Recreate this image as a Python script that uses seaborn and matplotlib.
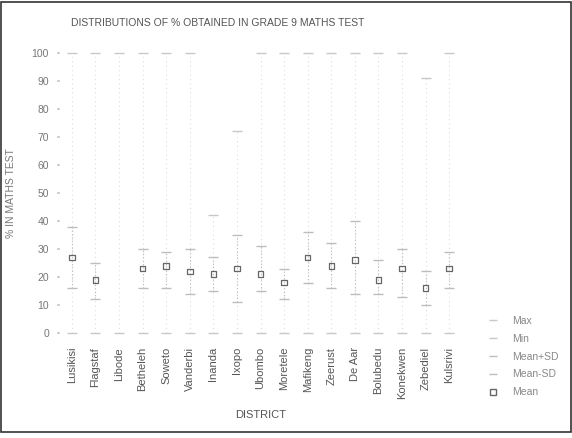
import numpy as np
import pandas as pd
import matplotlib
matplotlib.use("Agg")
import matplotlib.pyplot as plt
import seaborn as sns
from matplotlib.lines import Line2D
from matplotlib.patches import Rectangle

districts = ["Lusikisi", "Flagstaf", "Libode", "Betheleh", "Soweto", "Vanderbi",
             "Inanda", "Ixopo", "Ubombo", "Moretele", "Mafikeng", "Zeerust",
             "De Aar", "Bolubedu", "Konekwen", "Zebediel", "Kulsrivi"]
max_vals  = [100, 100, 100, 100, 100, 100, 42, 72, 100, 100, 100, 100, 100, 100, 100, 91, 100]
min_vals  = [0, 0, 0, 0, 0, 0, 0, 0, 0, 0, 0, 0, 0, 0, 0, 0, 0]
mean_plus = [38, 25, np.nan, 30, 29, 30, 27, 35, 31, 23, 36, 32, 40, 26, 30, 22, 29]
mean_minus = [16, 12, np.nan, 16, 16, 14, 15, 11, 15, 12, 18, 16, 14, 14, 13, 10, 16]
mean_vals = [27, 19, np.nan, 23, 24, 22, 21, 23, 21, 18, 27, 24, 26, 19, 23, 16, 23]
yticks = [0, 10, 20, 30, 40, 50, 60, 70, 80, 90, 100]

df = pd.DataFrame({"District": districts, "Max": max_vals, "Min": min_vals,
                   "Mean+SD": mean_plus, "Mean-SD": mean_minus, "Mean": mean_vals})
df["pos"] = np.arange(len(districts))
long = df.melt(id_vars=["District", "pos"], value_vars=["Max", "Min", "Mean+SD", "Mean-SD", "Mean"],
               var_name="Stat", value_name="Value").dropna()

sns.set_theme(style="white")
plt.rcParams['font.family'] = ['Liberation Sans', 'DejaVu Sans']

fig = plt.figure(figsize=(5.72, 4.38), dpi=100)
ax = fig.add_axes([0.105, 0.227, 0.701, 0.665])

txt = "#555555"
ax.vlines(df["pos"], df["Min"], df["Max"], colors="#dddddd", linestyles=(0, (1, 3)), linewidth=0.8, zorder=1)
ax.vlines(df["pos"], df["Mean-SD"], df["Mean+SD"], colors="#bbbbbb", linestyles=(0, (1, 2)), linewidth=0.8, zorder=2)

colors = {"Max": "#c8c8c8", "Min": "#c8c8c8", "Mean+SD": "#bdbdbd", "Mean-SD": "#bdbdbd"}
for stat in ["Max", "Min", "Mean+SD", "Mean-SD"]:
    sub = long[long["Stat"] == stat]
    sns.scatterplot(data=sub, x="pos", y="Value", marker="_", s=50, color=colors[stat],
                    linewidth=1.0, ax=ax, legend=False, zorder=3)
sub = long[long["Stat"] == "Mean"]
sns.scatterplot(data=sub, x="pos", y="Value", marker="s", s=16, facecolor="none",
                edgecolor="#666666", linewidth=0.9, ax=ax, legend=False, zorder=4)

ax.set_xlim(-0.5, len(districts) - 0.5)
ax.set_ylim(-2, 102)
ax.set_xticks(df["pos"])
ax.set_xticklabels(districts, rotation=90, fontsize=8, color=txt)
ax.set_yticks(yticks)
ax.set_yticklabels([str(v) for v in yticks], fontsize=7.5, color="#777777")
ax.tick_params(axis="y", length=2, color="#cccccc", pad=6, left=True)
ax.tick_params(axis="x", length=0, pad=6)
for s in ax.spines.values():
    s.set_visible(False)
ax.set_xlabel("DISTRICT", fontsize=8, color=txt, labelpad=8)
ax.set_ylabel("% IN MATHS TEST", fontsize=7.5, color="#777777")
ax.yaxis.set_label_coords(-0.11, 0.5)

fig.text(0.38, 0.948, "DISTRIBUTIONS OF % OBTAINED IN GRADE 9 MATHS TEST",
         ha="center", va="center", fontsize=7.5, color=txt)

handles = [
    Line2D([], [], marker="_", linestyle="none", color="#c8c8c8", markersize=6),
    Line2D([], [], marker="_", linestyle="none", color="#c8c8c8", markersize=6),
    Line2D([], [], marker="_", linestyle="none", color="#bdbdbd", markersize=6),
    Line2D([], [], marker="_", linestyle="none", color="#bdbdbd", markersize=6),
    Line2D([], [], marker="s", linestyle="none", markerfacecolor="none",
           markeredgecolor="#666666", markersize=4),
]
leg = fig.legend(handles, ["Max", "Min", "Mean+SD", "Mean-SD", "Mean"],
                 loc="upper left", bbox_to_anchor=(0.835, 0.30), frameon=False,
                 fontsize=7.5, handlelength=1.2, labelspacing=0.75, handletextpad=1.2)
for t in leg.get_texts():
    t.set_color("#888888")

fig.add_artist(Rectangle((0.002, 0.013), 0.996, 0.983, transform=fig.transFigure,
                         fill=False, edgecolor="#333333", linewidth=1.2))

fig.savefig("out.png", dpi=100)
